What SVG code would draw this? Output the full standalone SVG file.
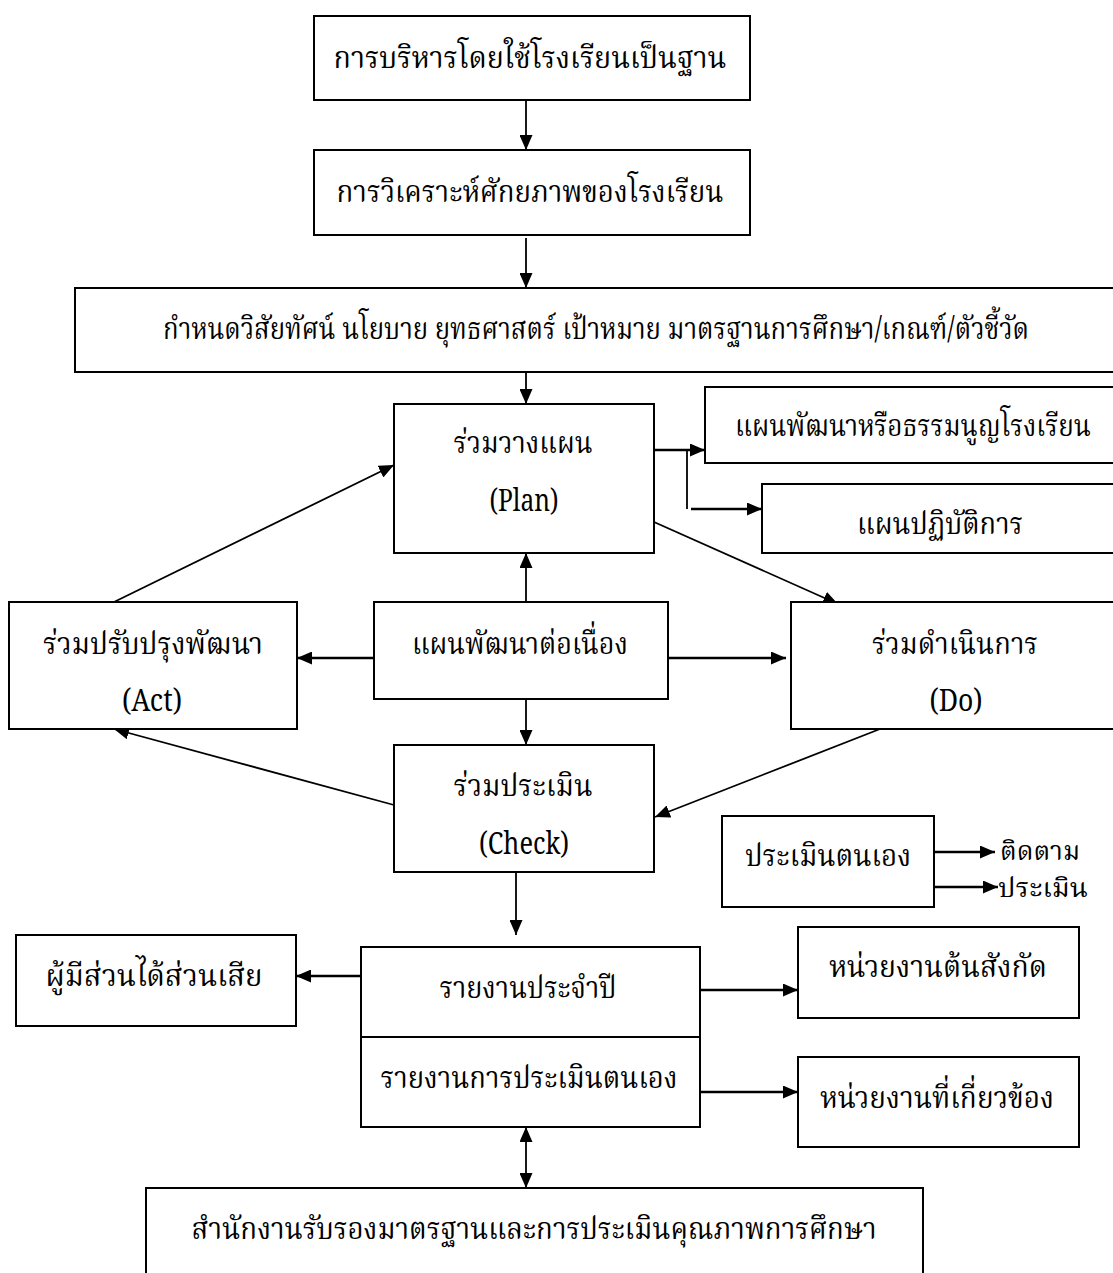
<svg xmlns="http://www.w3.org/2000/svg" width="1113" height="1273" viewBox="0 0 1113 1273">
<defs>
<marker id="ah" viewBox="0 0 15 13" refX="15" refY="6.5" markerWidth="15" markerHeight="13" markerUnits="userSpaceOnUse" orient="auto-start-reverse">
<path d="M0,0 L15,6.5 L0,13 z" fill="#000"/>
</marker>
<style>
rect{fill:#fff;stroke:#000;stroke-width:2}
text{font-family:"Noto Serif Thai","Noto Sans Thai","Liberation Serif","DejaVu Serif",serif;font-size:31px;fill:#000;text-anchor:middle}
.l{fill:none;stroke:#000;stroke-width:1.8}
.t{fill:none;stroke:#000;stroke-width:2.4}
.sm{font-size:27px;text-anchor:start}
</style>
</defs>
<rect x="0" y="0" width="1113" height="1273" fill="#fff" style="stroke:none"/>
<g id="connectors">
<line class="l" x1="526" y1="100" x2="526" y2="150" marker-end="url(#ah)"/>
<line class="l" x1="526" y1="238" x2="526" y2="288" marker-end="url(#ah)"/>
<line class="l" x1="526" y1="372" x2="526" y2="404" marker-end="url(#ah)"/>
<line class="t" x1="654" y1="450" x2="705" y2="450" marker-end="url(#ah)"/>
<polyline class="l" points="687,450 687,509"/>
<line class="t" x1="691" y1="509" x2="762" y2="509" marker-end="url(#ah)"/>
<line class="l" x1="654" y1="522" x2="838" y2="604" marker-end="url(#ah)"/>
<line class="l" x1="114" y1="602" x2="394" y2="465" marker-end="url(#ah)"/>
<line class="l" x1="526" y1="602" x2="526" y2="553" marker-end="url(#ah)"/>
<line class="t" x1="374" y1="658" x2="297" y2="658" marker-end="url(#ah)"/>
<line class="t" x1="668" y1="658" x2="786" y2="658" marker-end="url(#ah)"/>
<line class="l" x1="526" y1="699" x2="526" y2="745" marker-end="url(#ah)"/>
<line class="l" x1="394" y1="805" x2="114" y2="729" marker-end="url(#ah)"/>
<line class="l" x1="880" y1="729" x2="655" y2="817" marker-end="url(#ah)"/>
<line class="t" x1="934" y1="852" x2="995" y2="852" marker-end="url(#ah)"/>
<line class="t" x1="934" y1="887" x2="998" y2="887" marker-end="url(#ah)"/>
<line class="l" x1="516" y1="872" x2="516" y2="935" marker-end="url(#ah)"/>
<line class="t" x1="361" y1="976" x2="296" y2="976" marker-end="url(#ah)"/>
<line class="t" x1="700" y1="990" x2="798" y2="990" marker-end="url(#ah)"/>
<line class="t" x1="700" y1="1092" x2="798" y2="1092" marker-end="url(#ah)"/>
<line class="l" x1="526" y1="1127" x2="526" y2="1188" marker-start="url(#ah)" marker-end="url(#ah)"/>
</g>
<g id="n1"><rect x="314" y="16" width="436" height="84"/><text x="530" y="68" textLength="393" lengthAdjust="spacingAndGlyphs">การบริหารโดยใช้โรงเรียนเป็นฐาน</text></g>
<g id="n2"><rect x="314" y="150" width="436" height="85"/><text x="530" y="202" textLength="387" lengthAdjust="spacingAndGlyphs">การวิเคราะห์ศักยภาพของโรงเรียน</text></g>
<g id="n3"><rect x="75" y="288" width="1050" height="84"/><text x="596" y="339" textLength="866" lengthAdjust="spacingAndGlyphs">กำหนดวิสัยทัศน์ นโยบาย ยุทธศาสตร์ เป้าหมาย มาตรฐานการศึกษา/เกณฑ์/ตัวชี้วัด</text></g>
<g id="plan"><rect x="394" y="404" width="260" height="149"/><text x="523" y="453" textLength="139" lengthAdjust="spacingAndGlyphs">ร่วมวางแผน</text><text x="524" y="511" textLength="69" lengthAdjust="spacingAndGlyphs">(Plan)</text></g>
<g id="charter"><rect x="705" y="387" width="420" height="76"/><text x="913" y="436" textLength="356" lengthAdjust="spacingAndGlyphs">แผนพัฒนาหรือธรรมนูญโรงเรียน</text></g>
<g id="action"><rect x="762" y="484" width="363" height="69"/><text x="940" y="534" textLength="166" lengthAdjust="spacingAndGlyphs">แผนปฏิบัติการ</text></g>
<g id="act"><rect x="9" y="602" width="288" height="127"/><text x="153" y="654" textLength="220" lengthAdjust="spacingAndGlyphs">ร่วมปรับปรุงพัฒนา</text><text x="152" y="711" textLength="60" lengthAdjust="spacingAndGlyphs">(Act)</text></g>
<g id="cont"><rect x="374" y="602" width="294" height="97"/><text x="520" y="654" textLength="216" lengthAdjust="spacingAndGlyphs">แผนพัฒนาต่อเนื่อง</text></g>
<g id="do"><rect x="791" y="602" width="334" height="127"/><text x="955" y="654" textLength="166" lengthAdjust="spacingAndGlyphs">ร่วมดำเนินการ</text><text x="956" y="711" textLength="53" lengthAdjust="spacingAndGlyphs">(Do)</text></g>
<g id="check"><rect x="394" y="745" width="260" height="127"/><text x="523" y="796" textLength="139" lengthAdjust="spacingAndGlyphs">ร่วมประเมิน</text><text x="524" y="854" textLength="90" lengthAdjust="spacingAndGlyphs">(Check)</text></g>
<g id="self"><rect x="722" y="816" width="212" height="91"/><text x="828" y="866" textLength="166" lengthAdjust="spacingAndGlyphs">ประเมินตนเอง</text></g>
<g id="follow"><text class="sm" x="1000" y="860" textLength="80" lengthAdjust="spacingAndGlyphs">ติดตาม</text></g>
<g id="assess"><text class="sm" x="998" y="897" textLength="90" lengthAdjust="spacingAndGlyphs">ประเมิน</text></g>
<g id="stake"><rect x="16" y="935" width="280" height="91"/><text x="154" y="986" textLength="217" lengthAdjust="spacingAndGlyphs">ผู้มีส่วนได้ส่วนเสีย</text></g>
<g id="report"><rect x="361" y="947" width="339" height="180"/><line x1="361" y1="1037" x2="700" y2="1037" stroke="#000" stroke-width="2"/><text x="528" y="998" textLength="177" lengthAdjust="spacingAndGlyphs">รายงานประจำปี</text><text x="529" y="1088" textLength="297" lengthAdjust="spacingAndGlyphs">รายงานการประเมินตนเอง</text></g>
<g id="agency"><rect x="798" y="927" width="281" height="91"/><text x="938" y="977" textLength="218" lengthAdjust="spacingAndGlyphs">หน่วยงานต้นสังกัด</text></g>
<g id="related"><rect x="798" y="1057" width="281" height="90"/><text x="937" y="1108" textLength="234" lengthAdjust="spacingAndGlyphs">หน่วยงานที่เกี่ยวข้อง</text></g>
<g id="onesqa"><rect x="146" y="1188" width="777" height="100"/><text x="534" y="1239" textLength="685" lengthAdjust="spacingAndGlyphs">สำนักงานรับรองมาตรฐานและการประเมินคุณภาพการศึกษา</text></g>
</svg>
